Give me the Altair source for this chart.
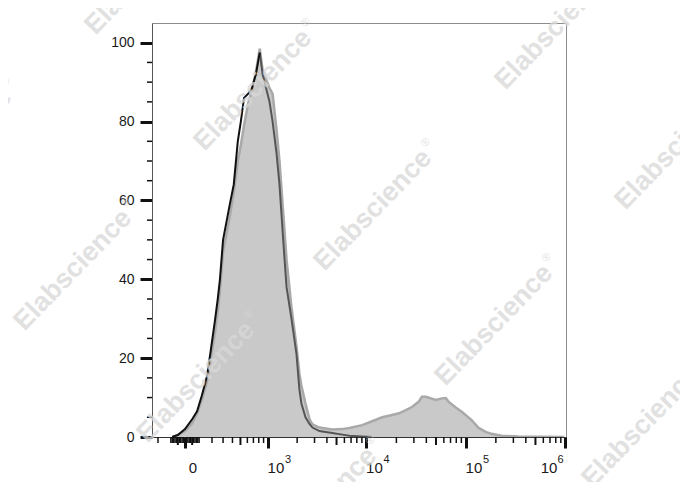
import altair as alt
import numpy as np
import pandas as pd

# ---------------- data ----------------
# fluorescence intensity (raw units) of histogram points
fluor = [-90, -50, 0, 50, 85, 120, 160, 190, 225, 250, 270, 300, 330, 370, 415,
         465, 505, 550, 610, 675, 745, 820, 880, 945, 1040, 1120, 1230, 1320, 1450,
         1560, 1750, 1970, 2110, 2210, 2430, 2670, 2860, 3360, 4530, 5720, 6720,
         9060, 11400, 14400, 18100, 21300, 28700, 33700, 36100, 39600, 44400, 49900,
         57300, 62800, 67300, 79000, 90800, 114000, 134000, 158000, 181000, 228000,
         337000, 972000]
# stained sample (filled histogram), % of max
stained = [0, 0.5, 1.5, 3.5, 6, 9.5, 14, 20, 26.5, 32, 37, 47, 51, 56, 62,
           70, 74, 79, 84.5, 88, 92.5, 98.5, 93, 91, 88.5, 87, 78, 70, 56,
           45, 33, 23, 16, 13, 8.5, 4.5, 3.2, 2.4, 1.9, 2, 2.3,
           3, 4, 5, 5.6, 6, 7.6, 9, 10.2, 10.2, 9.8, 9.4,
           9.8, 9.9, 8.9, 7.5, 6.4, 4.3, 2.3, 1.3, 0.8, 0.3,
           0.1, 0]
# control histogram (line), % of max
control = [0, 0.5, 2, 4.5, 6.5, 10.5, 15.5, 22, 29.5, 35, 40, 50, 54, 59, 64,
           75, 80, 86, 87, 88.5, 92, 97.5, 92, 89, 85, 80, 72, 64, 49,
           38, 30, 21, 12, 8.5, 5, 3.3, 2.4, 1.5, 1.0, 0.6, 0.3,
           0.1, 0, None, None, None, None, None, None, None, None, None,
           None, None, None, None, None, None, None, None, None, None,
           None, None]
peak_split = 820

# axis ticks
y_major = [0, 20, 40, 60, 80, 100]
y_minor = [v for v in range(5, 105, 5) if v % 20]
x_major = [0, 1e3, 1e4, 1e5, 1e6]
x_major_base = ["0", "10", "10", "10", "10"]
x_major_exp = ["", "3", "4", "5", "6"]
x_mid = [-50, 50, 500, 5000, 50000, 500000]
x_minor = ([-200, -100, -90, -80, -70, -60, -40, -30, -20, -10,
            10, 20, 30, 40, 60, 70, 80, 90,
            100, 200, 300, 400, 600, 700, 800, 900]
           + [k * 1000 for k in (2, 3, 4, 6, 7, 8, 9)]
           + [k * 10000 for k in (2, 3, 4, 6, 7, 8, 9)]
           + [k * 100000 for k in (2, 3, 4, 6, 7, 8, 9)])
x_range = [-252, 1.014e6]

watermarks = [(144, -26), (253, 90), (554, 29), (-47, 149), (373, 210), (674, 149),
              (73, 270), (494, 325), (196, 382), (641, 427), (318, 508)]

# ---------------- helpers ----------------
COF = 300.0
T_EXPR = f"log(datum.fluor/{COF} + sqrt(pow(datum.fluor/{COF}, 2) + 1))"


def tr(v):
    return float(np.arcsinh(float(v) / COF))


PLOT_LEFT, PLOT_TOP = 152, 23
W, H = 414, 414
FONT = "Liberation Sans"

xs = alt.Scale(domain=[tr(x_range[0]), tr(x_range[1])], nice=False, zero=False)
ys = alt.Scale(domain=[0, 105], nice=False, zero=False)

x_axis = alt.Axis(values=[tr(v) for v in x_major], labels=False, tickSize=11,
                  tickWidth=3, tickColor="#111", domainColor="#333", domainWidth=1,
                  grid=False, title=None)
y_axis = alt.Axis(values=y_major, tickSize=12, tickWidth=3, tickColor="#111",
                  labelFont=FONT, labelFontSize=14, labelColor="#1a1a1a",
                  labelPadding=6, domainColor="#555", domainWidth=1,
                  grid=False, title=None)


def X():
    return alt.X("t:Q", scale=xs, axis=x_axis)


def Y(field):
    return alt.Y(field, scale=ys, axis=y_axis)


df = pd.DataFrame({"fluor": fluor, "stained": stained, "control": control})
base = alt.Chart(df).transform_calculate(t=T_EXPR)

area = base.mark_area(color="#c9c9c9", clip=True).encode(x=X(), y=Y("stained:Q"))
outline = base.mark_line(color="#a9a9a9", strokeWidth=2.5, clip=True).encode(
    x=X(), y=Y("stained:Q"))
gray_line = base.transform_filter(
    f"datum.fluor >= {peak_split} && isValid(datum.control)"
).mark_line(color="#555555", strokeWidth=2, clip=True).encode(x=X(), y=Y("control:Q"))
black_line = base.transform_filter(
    f"datum.fluor <= {peak_split}"
).mark_line(color="#111111", strokeWidth=2, clip=True).encode(x=X(), y=Y("control:Q"))

# minor / mid ticks
xminor = alt.Chart(pd.DataFrame({"fluor": x_minor})).transform_calculate(
    t=T_EXPR).mark_rule(color="#111", strokeWidth=1.5).encode(
    x=X(), y=alt.value(H), y2=alt.value(H + 6))
xmid = alt.Chart(pd.DataFrame({"fluor": x_mid})).transform_calculate(
    t=T_EXPR).mark_rule(color="#111", strokeWidth=2).encode(
    x=X(), y=alt.value(H), y2=alt.value(H + 8))
yminor = alt.Chart(pd.DataFrame({"pct": y_minor})).mark_rule(
    color="#111", strokeWidth=1.5).encode(
    y=Y("pct:Q"), x=alt.value(-5), x2=alt.value(0))

# x tick labels with superscript exponents
lab_df = pd.DataFrame({"fluor": x_major, "base": x_major_base, "exp": x_major_exp})
lab_base = alt.Chart(lab_df).transform_calculate(t=T_EXPR)
txt = dict(font=FONT, color="#1a1a1a", baseline="alphabetic")
lab_a = lab_base.transform_filter("datum.fluor < 1e6").mark_text(
    align="center", dx=8, fontSize=15, **txt).encode(
    x=X(), y=alt.value(H + 36), text="base:N")
lab_b = lab_base.transform_filter("datum.fluor >= 1e6").mark_text(
    align="right", dx=-8, fontSize=15, **txt).encode(
    x=X(), y=alt.value(H + 36), text="base:N")
exp_a = lab_base.transform_filter("datum.fluor > 0 && datum.fluor < 1e6").mark_text(
    align="left", dx=17, fontSize=11, **txt).encode(
    x=X(), y=alt.value(H + 26), text="exp:N")
exp_b = lab_base.transform_filter("datum.fluor >= 1e6").mark_text(
    align="left", dx=-8, fontSize=11, **txt).encode(
    x=X(), y=alt.value(H + 26), text="exp:N")

# watermark text
ang = np.deg2rad(-46)
dvec = np.array([np.cos(ang), np.sin(ang)])
uvec = np.array([np.sin(ang), -np.cos(ang)])
wm_layers = []
WM_FS = 27
wm_width = 5.78 * WM_FS
for (cx, cy) in watermarks:
    px, py = cx - PLOT_LEFT, cy - PLOT_TOP
    wm_layers.append(
        alt.Chart(alt.Data(values=[{"a": 1}])).mark_text(
            text="Elabscience", angle=314, font=FONT, fontSize=WM_FS,
            fontWeight="bold", color="#d8d8d8", opacity=0.75,
            align="center", baseline="middle").encode(
            x=alt.value(float(px)), y=alt.value(float(py))))
    rp = np.array([px, py]) + dvec * (wm_width / 2 + 7) + uvec * 9
    wm_layers.append(
        alt.Chart(alt.Data(values=[{"a": 1}])).mark_text(
            text="®", angle=314, font=FONT, fontSize=11,
            color="#d8d8d8", opacity=0.75,
            align="center", baseline="middle").encode(
            x=alt.value(float(rp[0])), y=alt.value(float(rp[1]))))

chart = alt.layer(
    area, outline, gray_line, black_line, xminor, xmid, yminor,
    lab_a, lab_b, exp_a, exp_b, *wm_layers
).properties(
    width=W, height=H,
    autosize=alt.AutoSizeParams(type="none"),
    padding={"left": PLOT_LEFT - 8, "top": PLOT_TOP - 8, "right": 114, "bottom": 45},
).configure_view(stroke="#8c8c8c", strokeWidth=1)

chart.save("out.html", embed_options={"renderer": "svg", "actions": False})
